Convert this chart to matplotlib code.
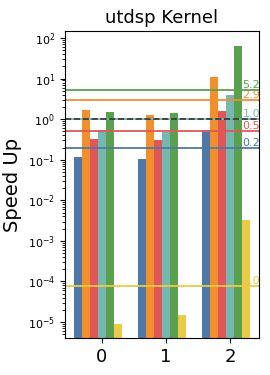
import numpy as np
import matplotlib
matplotlib.use('Agg')
import matplotlib.pyplot as plt

# speed up per kernel group, one list per series
groups = [0, 1, 2]
series_blue = [0.115, 0.105, 0.54]
series_orange = [1.7, 1.26, 10.7]
series_red = [0.32, 0.31, 1.6]
series_teal = [0.54, 0.49, 4.0]
series_green = [1.5, 1.4, 64.0]
series_yellow = [9e-6, 1.5e-5, 3.2e-3]

# geometric mean lines
mean_values = [0.19, 2.9, 0.5, 1.0, 5.2, 7.9e-5]

colors = ['#4e79a7', '#f28e2b', '#e15759', '#76b7b2', '#59a14f', '#edc948']
all_series = [series_blue, series_orange, series_red, series_teal, series_green, series_yellow]

fig = plt.figure(figsize=(2.7, 3.75), dpi=100)
ax = fig.add_axes([0.24, 0.099, 0.72, 0.818])

x = np.array(groups)
w = 0.125
for k, vals in enumerate(all_series):
	ax.bar(x + (k - 3) * w, vals, w, color=colors[k])

ax.set_yscale('log')
ax.set_ylim(10 ** -5.39, 10 ** 2.17)
ax.set_xlim(-0.575, 2.45)

for k, m in enumerate(mean_values):
	ax.axhline(m, color=colors[k], linewidth=1.3)
	# labels sit behind the bars and get clipped at the axes edge
	ax.text(2.19, m, '%.1f' % m, color=colors[k], fontsize=8, va='bottom', ha='left',
		clip_on=True, zorder=0.5)
ax.axhline(1.0, color='#333333', linestyle='--', linewidth=1.2)

ax.set_xticks(groups)
ax.set_xticklabels([str(g) for g in groups], fontsize=13)
ax.tick_params(axis='y', labelsize=8)
ax.set_title('utdsp Kernel', fontsize=13)
ax.set_ylabel('Speed Up', fontsize=14)

fig.savefig('out.png', dpi=100)
